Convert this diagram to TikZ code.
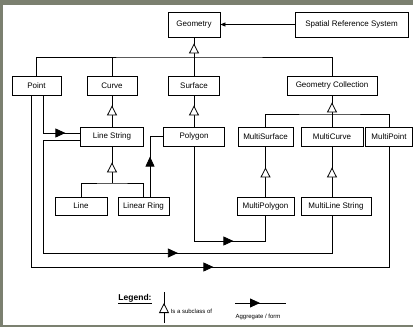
\documentclass[tikz,border=0pt]{standalone}
\usepackage{fontspec}
\setmainfont{Liberation Sans}
\usepackage{xcolor}
\usetikzlibrary{arrows.meta,decorations.markings,calc}

\definecolor{bgcol}{RGB}{123,128,112}

\tikzset{
  cls/.style={draw, fill=white, inner sep=0pt, minimum height=19pt, font=\fontsize{8}{9}\selectfont},
  isa/.style={postaction={decorate}, decoration={markings, mark=at position -#1 with {\arrow{Triangle[length=10pt,width=10pt,fill=white]}}}},
  agg/.style={postaction={decorate}, decoration={markings, mark=at position #1 with {\arrow{Triangle[length=10pt,width=9pt]}}}},
}

\begin{document}
\begin{tikzpicture}[x=1pt, y=-1pt, line width=0.8pt]
    % frame
    \fill[bgcol] (0,0) rectangle (413,327);
    \fill[white] (3,5) rectangle (413,325);
    \useasboundingbox (0,0) rectangle (413,327);

    % Classes
    \node[cls, minimum width=52pt, minimum height=25pt] (geom) at (194,24.5) {Geometry};
    \node[cls, minimum width=113pt, minimum height=25pt] (srs) at (351.5,24.5) {Spatial Reference System};

    \node[cls, minimum width=49pt] (point) at (36.5,85.5) {Point};
    \node[cls, minimum width=50pt] (curve) at (112,85.5) {Curve};
    \node[cls, minimum width=51pt] (surface) at (194,85.5) {Surface};
    \node[cls, minimum width=90pt] (gcoll) at (332,85.5) {Geometry Collection};

    \node[cls, minimum width=63pt] (lstr) at (112,136.5) {Line String};
    \node[cls, minimum width=61pt] (poly) at (194,136.5) {Polygon};
    \node[cls, minimum width=55pt] (msurf) at (265.5,136.5) {MultiSurface};
    \node[cls, minimum width=62pt] (mcurve) at (332,136.5) {MultiCurve};
    \node[cls, minimum width=47pt] (mpoint) at (389,136.5) {MultiPoint};

    \node[cls, minimum width=52pt, minimum height=18pt] (line) at (81,206) {Line};
    \node[cls, minimum width=51pt, minimum height=18pt] (lring) at (143.5,206) {Linear Ring};
    \node[cls, minimum width=57pt, minimum height=18pt] (mpoly) at (265.5,206) {MultiPolygon};
    \node[cls, minimum width=70pt, minimum height=18pt] (mlstr) at (336,206) {MultiLine String};

    % Subclass links
    \coordinate (gbus) at (194,57);
    \coordinate (cbus) at (332,114);
    \coordinate (lbus) at (112,183);
    \draw[isa=6pt] (surface.north) -- (geom.south);
    \draw (point.north) |- (gbus) -| (gcoll.north);
    \draw (curve.north) -- (curve.north |- gbus);
    \draw[isa=10pt] (lstr.north) -- (curve.south);
    \draw[isa=10pt] (poly.north) -- (surface.south);
    \draw[isa=7pt] (cbus) -- (gcoll.south);
    \draw (msurf.north) |- (cbus) -| (mpoint.north);
    \draw (mcurve.north) -- (cbus);
    \draw[isa=16pt] (lbus) -- (lstr.south);
    \draw (line.north) |- (lbus) -| (lring.north);
    \draw[isa=21pt] (mpoly.north) -- (msurf.south);
    \draw[isa=21pt] (mlstr.north -| mcurve) -- (mcurve.south);

    % Aggregate links
    \draw[-{Triangle[length=5pt,width=4pt]}] (srs) -- (geom);
    \draw[agg=60pt] ([xshift=6.5pt]point.south) |- ([yshift=3.5pt]lstr.west);
    \draw[agg=40pt] ([xshift=6.5pt]lring.north) |- (poly.west);
    \draw[agg=134pt] (poly.south) -- (194,241) -| (mpoly.south);
    \draw[agg=285pt] ([yshift=-3.5pt]lstr.west) -| (43,253) -| (mlstr.south -| mcurve);
    \draw[agg=354pt] ([xshift=-5.5pt]point.south) -- (31,267) -| (mpoint.south);

    % Legend
    \node[font=\fontsize{8.5}{10}\selectfont] (legend) at (135,299) {\underline{\textbf{Legend:}}};
    \coordinate (ltop) at (164,292);
    \coordinate (lbot) at (164,323);
    \draw[isa=11pt] (lbot) -- (ltop);
    \node[anchor=west, font=\fontsize{6}{7}\selectfont] (lisa) at (167,311) {Is a subclass of};
    \coordinate (lstart) at (235,303);
    \coordinate (lend) at (286,303);
    \draw[agg=25pt] (lstart) -- (lend);
    \node[font=\fontsize{6}{7}\selectfont] (lagg) at (258,317) {Aggregate / form};
\end{tikzpicture}
\end{document}
